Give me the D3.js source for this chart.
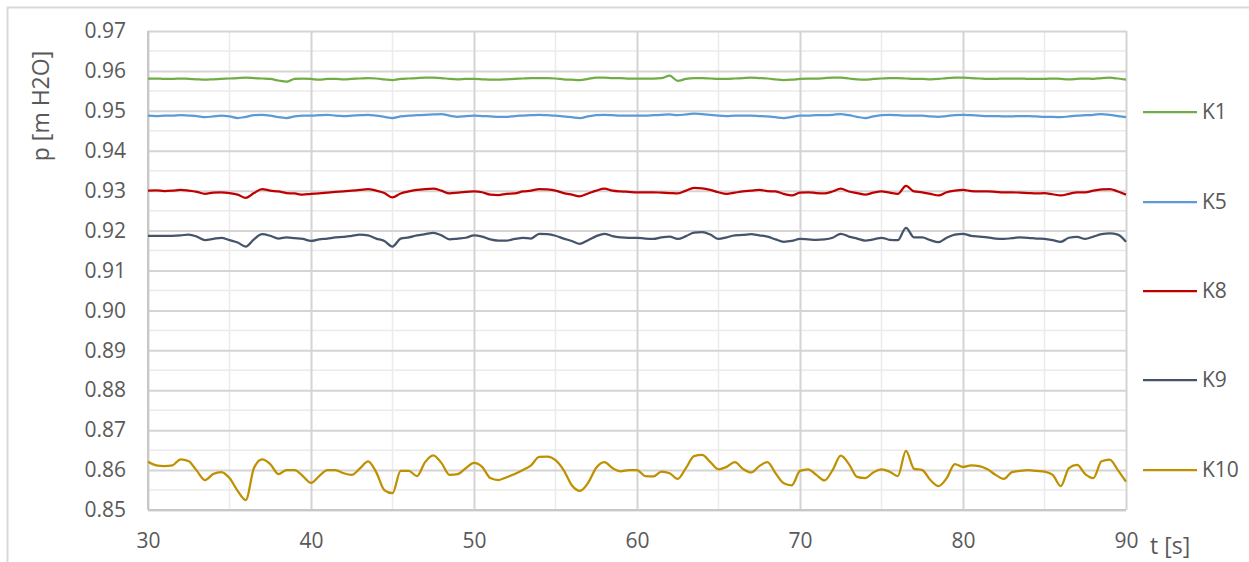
<!DOCTYPE html>
<html>
<head>
<meta charset="utf-8">
<script src="https://cdn.jsdelivr.net/npm/d3@7"></script>
<style>
  body { margin: 0; background: #fff; }
  svg { display: block; font-family: "Open Sans", "Noto Sans", sans-serif; }
</style>
</head>
<body>
<svg width="1249" height="562"></svg>
<script>
// sampling grid, 0.5 s from 30 s to 90 s
const time = d3.range(0, 121).map(i => 30 + i * 0.5);

const seriesNames = ["K1", "K5", "K8", "K9", "K10"];
const seriesColors = ["#70ad47", "#5b9bd5", "#c00000", "#44546a", "#bf9000"];

const k1 = [
  0.9581, 0.9581, 0.9580, 0.9580, 0.9581, 0.9580, 0.9579, 0.9578, 0.9579, 0.9580,
  0.9581, 0.9582, 0.9583, 0.9582, 0.9581, 0.9580, 0.9576, 0.9573, 0.9580, 0.9581,
  0.9580, 0.9578, 0.9580, 0.9580, 0.9579, 0.9580, 0.9581, 0.9582, 0.9581, 0.9579,
  0.9577, 0.9580, 0.9581, 0.9582, 0.9583, 0.9583, 0.9582, 0.9580, 0.9579, 0.9580,
  0.9580, 0.9579, 0.9578, 0.9578, 0.9579, 0.9580, 0.9581, 0.9582, 0.9582, 0.9582,
  0.9581, 0.9579, 0.9578, 0.9577, 0.9580, 0.9583, 0.9583, 0.9582, 0.9582, 0.9581,
  0.9581, 0.9581, 0.9581, 0.9582, 0.9588, 0.9575, 0.9580, 0.9582, 0.9582, 0.9581,
  0.9580, 0.9580, 0.9581, 0.9582, 0.9583, 0.9582, 0.9581, 0.9579, 0.9577, 0.9578,
  0.9580, 0.9581, 0.9581, 0.9582, 0.9583, 0.9583, 0.9581, 0.9579, 0.9578, 0.9580,
  0.9581, 0.9582, 0.9582, 0.9581, 0.9580, 0.9580, 0.9579, 0.9580, 0.9582, 0.9583,
  0.9583, 0.9582, 0.9581, 0.9580, 0.9580, 0.9581, 0.9581, 0.9581, 0.9580, 0.9580,
  0.9580, 0.9581, 0.9580, 0.9579, 0.9580, 0.9581, 0.9580, 0.9582, 0.9583, 0.9581,
  0.9578
];

const k5 = [
  0.9488, 0.9487, 0.9488, 0.9488, 0.9489, 0.9488, 0.9487, 0.9484, 0.9486, 0.9488,
  0.9486, 0.9482, 0.9485, 0.9489, 0.9490, 0.9488, 0.9484, 0.9482, 0.9486, 0.9488,
  0.9488, 0.9489, 0.9490, 0.9488, 0.9487, 0.9488, 0.9489, 0.9490, 0.9488, 0.9485,
  0.9482, 0.9486, 0.9488, 0.9489, 0.9490, 0.9491, 0.9492, 0.9488, 0.9485, 0.9487,
  0.9488, 0.9487, 0.9486, 0.9485, 0.9485, 0.9487, 0.9488, 0.9489, 0.9490, 0.9489,
  0.9488, 0.9486, 0.9484, 0.9482, 0.9486, 0.9489, 0.9490, 0.9489, 0.9488, 0.9488,
  0.9488, 0.9488, 0.9489, 0.9490, 0.9491, 0.9489, 0.9491, 0.9493, 0.9492, 0.9490,
  0.9488, 0.9487, 0.9488, 0.9488, 0.9488, 0.9487, 0.9486, 0.9484, 0.9482, 0.9485,
  0.9488, 0.9488, 0.9489, 0.9489, 0.9490, 0.9492, 0.9489, 0.9485, 0.9482, 0.9486,
  0.9489, 0.9490, 0.9489, 0.9488, 0.9488, 0.9488, 0.9486, 0.9485, 0.9487, 0.9489,
  0.9490, 0.9489, 0.9488, 0.9487, 0.9487, 0.9486, 0.9486, 0.9487, 0.9487, 0.9486,
  0.9485, 0.9485, 0.9484, 0.9486, 0.9488, 0.9489, 0.9490, 0.9492, 0.9490, 0.9487,
  0.9484
];

const k8 = [
  0.9300, 0.9301, 0.9299, 0.9300, 0.9302, 0.9300, 0.9297, 0.9292, 0.9295, 0.9296,
  0.9294, 0.9290, 0.9282, 0.9294, 0.9304, 0.9300, 0.9298, 0.9294, 0.9293, 0.9290,
  0.9292, 0.9293, 0.9295, 0.9297, 0.9298, 0.9300, 0.9302, 0.9304, 0.9300, 0.9294,
  0.9283, 0.9293, 0.9298, 0.9302, 0.9304, 0.9305, 0.9300, 0.9293, 0.9295, 0.9297,
  0.9298, 0.9296, 0.9290, 0.9289, 0.9292, 0.9293, 0.9298, 0.9300, 0.9304, 0.9303,
  0.9300, 0.9294, 0.9290, 0.9286, 0.9293, 0.9300, 0.9305, 0.9300, 0.9298, 0.9297,
  0.9296, 0.9296, 0.9296, 0.9295, 0.9294, 0.9293, 0.9300, 0.9307, 0.9306, 0.9302,
  0.9296, 0.9292, 0.9295, 0.9298, 0.9300, 0.9302, 0.9299, 0.9298, 0.9292, 0.9288,
  0.9295, 0.9296, 0.9294, 0.9293, 0.9298, 0.9305, 0.9298, 0.9294, 0.9290, 0.9295,
  0.9298, 0.9295, 0.9292, 0.9312, 0.9298, 0.9296, 0.9292, 0.9288, 0.9296, 0.9300,
  0.9302, 0.9299, 0.9298, 0.9298, 0.9297, 0.9296, 0.9296, 0.9295, 0.9294, 0.9293,
  0.9294, 0.9291, 0.9288, 0.9292, 0.9296, 0.9296, 0.9300, 0.9303, 0.9304, 0.9298,
  0.9290
];

const k9 = [
  0.9187, 0.9187, 0.9187, 0.9187, 0.9188, 0.9190, 0.9185, 0.9176, 0.9179, 0.9182,
  0.9176, 0.9170, 0.9160, 0.9178, 0.9191, 0.9187, 0.9180, 0.9183, 0.9181, 0.9179,
  0.9174, 0.9178, 0.9180, 0.9183, 0.9184, 0.9187, 0.9190, 0.9188, 0.9180, 0.9174,
  0.9160, 0.9180, 0.9183, 0.9188, 0.9191, 0.9194, 0.9188, 0.9178, 0.9180, 0.9182,
  0.9188, 0.9185, 0.9178, 0.9175, 0.9175, 0.9179, 0.9182, 0.9180, 0.9192, 0.9191,
  0.9187, 0.9180, 0.9174, 0.9167, 0.9176, 0.9186, 0.9192, 0.9186, 0.9183, 0.9182,
  0.9182, 0.9180, 0.9179, 0.9183, 0.9185, 0.9179, 0.9186, 0.9195, 0.9196, 0.9190,
  0.9179, 0.9183, 0.9188, 0.9189, 0.9191, 0.9188, 0.9185, 0.9178, 0.9172, 0.9174,
  0.9179, 0.9178, 0.9177, 0.9178, 0.9182, 0.9192, 0.9185, 0.9180, 0.9175, 0.9178,
  0.9182, 0.9177, 0.9176, 0.9207, 0.9183, 0.9183, 0.9176, 0.9171, 0.9182, 0.9190,
  0.9192, 0.9187, 0.9185, 0.9183, 0.9180, 0.9179, 0.9181, 0.9183, 0.9182, 0.9180,
  0.9179, 0.9176, 0.9172, 0.9182, 0.9184, 0.9179, 0.9185, 0.9191, 0.9193, 0.9190,
  0.9172
];

const k10 = [
  0.8621, 0.8612, 0.8610, 0.8612, 0.8627, 0.8622, 0.8598, 0.8575, 0.8590, 0.8595,
  0.8580, 0.8548, 0.8525, 0.8605, 0.8627, 0.8615, 0.8590, 0.8600, 0.8600, 0.8585,
  0.8568, 0.8585, 0.8600, 0.8600, 0.8592, 0.8588, 0.8604, 0.8622, 0.8595, 0.8550,
  0.8542, 0.8598, 0.8598, 0.8585, 0.8620, 0.8637, 0.8618, 0.8588, 0.8590, 0.8605,
  0.8618, 0.8608, 0.8580, 0.8575, 0.8582, 0.8590, 0.8600, 0.8612, 0.8633, 0.8634,
  0.8625, 0.8600, 0.8562, 0.8548, 0.8568, 0.8606, 0.8620, 0.8605, 0.8597, 0.8600,
  0.8600, 0.8585, 0.8584, 0.8596, 0.8592, 0.8578, 0.8605, 0.8635, 0.8638, 0.8620,
  0.8602, 0.8608, 0.8620, 0.8603, 0.8594, 0.8610, 0.8620, 0.8592, 0.8567, 0.8562,
  0.8598, 0.8602, 0.8588, 0.8574, 0.8600, 0.8636, 0.8615, 0.8583, 0.8580, 0.8594,
  0.8602, 0.8596, 0.8585, 0.8648, 0.8603, 0.8600, 0.8575, 0.8560, 0.8580, 0.8615,
  0.8608, 0.8612, 0.8610, 0.8602, 0.8588, 0.8578, 0.8595, 0.8598, 0.8600, 0.8598,
  0.8596, 0.8588, 0.8560, 0.8605, 0.8613, 0.8590, 0.8580, 0.8622, 0.8626, 0.8600,
  0.8571
];

const seriesValues = [k1, k5, k8, k9, k10];

const xTicks = [30, 40, 50, 60, 70, 80, 90];
const yTicks = [0.85, 0.86, 0.87, 0.88, 0.89, 0.90, 0.91, 0.92, 0.93, 0.94, 0.95, 0.96, 0.97];

const svg = d3.select("svg");
const margin = {left: 148, right: 1126, top: 31, bottom: 510};

const x = d3.scaleLinear().domain([30, 90]).range([margin.left, margin.right]);
const y = d3.scaleLinear().domain([0.85, 0.97]).range([margin.bottom, margin.top]);

// outer chart frame
svg.append("rect")
    .attr("x", 7.5).attr("y", 7.5)
    .attr("width", 1260).attr("height", 570)
    .attr("fill", "none")
    .attr("stroke", "#d9d9d9")
    .attr("stroke-width", 2);

const grid = svg.append("g");

// minor grid
grid.selectAll(".minor-y")
  .data(d3.range(0, 12).map(i => 0.855 + i * 0.01))
  .join("line")
    .attr("x1", margin.left).attr("x2", margin.right)
    .attr("y1", d => y(d)).attr("y2", d => y(d))
    .attr("stroke", "#ebebeb").attr("stroke-width", 1.5);

grid.selectAll(".minor-x")
  .data([35, 45, 55, 65, 75, 85])
  .join("line")
    .attr("x1", d => x(d)).attr("x2", d => x(d))
    .attr("y1", margin.top).attr("y2", margin.bottom)
    .attr("stroke", "#ebebeb").attr("stroke-width", 1.5);

// major grid via axes
grid.append("g")
    .attr("transform", `translate(${margin.left},0)`)
    .call(d3.axisLeft(y).tickValues(yTicks).tickSize(-(margin.right - margin.left)).tickFormat(""))
    .call(g => g.select(".domain").remove())
    .call(g => g.selectAll("line").attr("stroke", "#d4d4d4").attr("stroke-width", 2));

grid.append("g")
    .attr("transform", `translate(0,${margin.bottom})`)
    .call(d3.axisBottom(x).tickValues(xTicks).tickSize(-(margin.bottom - margin.top)).tickFormat(""))
    .call(g => g.select(".domain").remove())
    .call(g => g.selectAll("line").attr("stroke", "#d4d4d4").attr("stroke-width", 2));

// axis lines
svg.append("line")
    .attr("x1", margin.left).attr("x2", margin.left)
    .attr("y1", margin.top).attr("y2", margin.bottom)
    .attr("stroke", "#c8c8c8").attr("stroke-width", 2);
svg.append("line")
    .attr("x1", margin.left).attr("x2", margin.right)
    .attr("y1", margin.bottom).attr("y2", margin.bottom)
    .attr("stroke", "#c8c8c8").attr("stroke-width", 2);

// tick labels
const yAxis = svg.append("g")
    .attr("transform", `translate(${margin.left - 22},0)`)
    .call(d3.axisLeft(y).tickValues(yTicks).tickSize(0).tickFormat(d3.format(".2f")));
yAxis.select(".domain").remove();
yAxis.selectAll("text")
    .attr("x", 0)
    .style("font-family", "'Open Sans', sans-serif")
    .style("font-size", "21px")
    .attr("fill", "#595959");

const xAxis = svg.append("g")
    .attr("transform", `translate(0,${margin.bottom + 20})`)
    .call(d3.axisBottom(x).tickValues(xTicks).tickSize(0).tickFormat(d3.format("d")));
xAxis.select(".domain").remove();
xAxis.selectAll("text")
    .attr("y", 0)
    .attr("dy", "0.85em")
    .style("font-family", "'Open Sans', sans-serif")
    .style("font-size", "21px")
    .attr("fill", "#595959");

// axis titles
svg.append("text")
    .attr("transform", "translate(49,106) rotate(-90)")
    .attr("text-anchor", "middle")
    .attr("fill", "#595959")
    .style("font-size", "23px")
    .text("p [m H2O]");

svg.append("text")
    .attr("x", 1150).attr("y", 554)
    .attr("fill", "#595959")
    .style("font-size", "23px")
    .text("t [s]");

// series lines
const line = d3.line()
    .x((d, i) => x(time[i]))
    .y(d => y(d))
    .curve(d3.curveMonotoneX);

svg.append("g")
  .selectAll("path")
  .data(seriesValues)
  .join("path")
    .attr("d", line)
    .attr("fill", "none")
    .attr("stroke", (d, i) => seriesColors[i])
    .attr("stroke-width", 2.25)
    .attr("stroke-linejoin", "round");

// legend
const legendY = [112, 202, 291, 380, 470];
const legend = svg.append("g")
  .selectAll("g")
  .data(seriesNames)
  .join("g")
    .attr("transform", (d, i) => `translate(1143,${legendY[i]})`);

legend.append("line")
    .attr("x1", 0).attr("x2", 54)
    .attr("stroke", (d, i) => seriesColors[i])
    .attr("stroke-width", 2.25);

legend.append("text")
    .attr("x", 59).attr("dy", "0.35em")
    .attr("fill", "#595959")
    .style("font-size", "21px")
    .text(d => d);
</script>
</body>
</html>
